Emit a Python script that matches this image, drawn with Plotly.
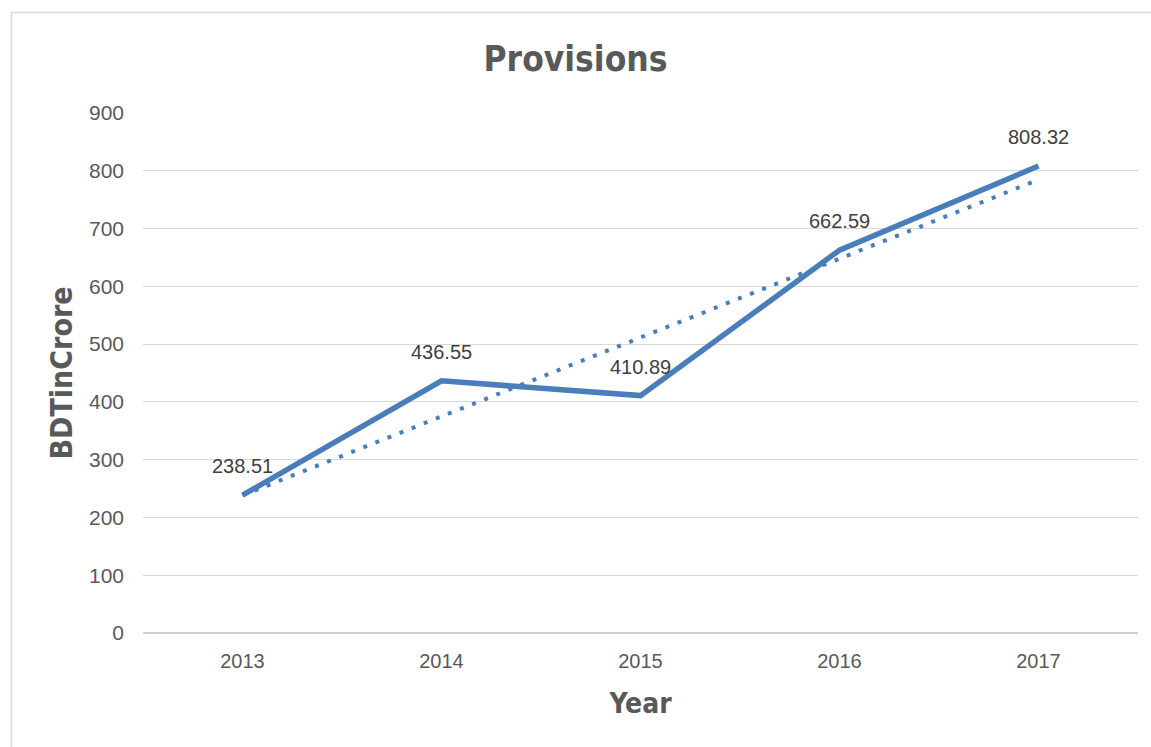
import numpy as np
import plotly.graph_objects as go

years = ["2013", "2014", "2015", "2016", "2017"]
provisions = [238.51, 436.55, 410.89, 662.59, 808.32]
y_ticks = [0, 100, 200, 300, 400, 500, 600, 700, 800, 900]

# Linear trendline (least squares), as in the original spreadsheet chart
xi = np.arange(len(years))
slope, intercept = np.polyfit(xi, provisions, 1)
trend = [slope * i + intercept for i in xi]

COND = "DejaVu Sans Condensed, sans-serif"
REG = "Liberation Sans, Arial, sans-serif"
GREY = "#595959"

fig = go.Figure()
fig.add_trace(go.Scatter(
    x=years, y=trend, mode="lines",
    line=dict(color="#4a7ebb", width=4, dash="4px,9px"),
    showlegend=False, hoverinfo="skip"))
fig.add_trace(go.Scatter(
    x=years, y=provisions, mode="lines",
    line=dict(color="#4a7ebb", width=5.5),
    showlegend=False))

# data labels: x given as category index on the category axis
for i, v in enumerate(provisions):
    fig.add_annotation(x=i, y=v, xref="x", yref="y", text=f"{v:.2f}",
                       showarrow=False, yshift=29,
                       xanchor="center", yanchor="middle",
                       font=dict(family=REG, size=20, color="#404040"))

fig.update_layout(
    width=1151, height=747,
    margin=dict(l=143, r=13, t=113, b=114),
    paper_bgcolor="white", plot_bgcolor="white",
    title=dict(text="<b>Provisions</b>", x=0.5, xanchor="center",
               y=1 - 59 / 747, yanchor="middle",
               font=dict(family=COND, size=35, color=GREY)),
    xaxis=dict(type="category", range=[-0.5, 4.5], showgrid=False,
               showline=False, ticks="", zeroline=False,
               ticklabelstandoff=14,
               tickfont=dict(family=REG, size=20, color=GREY),
               title=dict(text="<b>Year</b>", standoff=22,
                          font=dict(family=COND, size=28, color=GREY))),
    yaxis=dict(range=[0, 900], tickvals=y_ticks, showgrid=True,
               gridcolor="#d9d9d9", gridwidth=1.3, zeroline=True,
               zerolinecolor="#d0d0d0", zerolinewidth=1.5, ticks="",
               ticklabelstandoff=18,
               tickfont=dict(family=REG, size=21, color=GREY),
               title=dict(text="<b>BDTinCrore</b>", standoff=7,
                          font=dict(family=COND, size=30, color=GREY))),
)

# chart-area border
fig.add_shape(type="rect", xref="paper", yref="paper",
              x0=(11.5 - 143) / 995, x1=(1160 - 143) / 995,
              y0=(633 - 760) / 520, y1=(633 - 12.5) / 520,
              line=dict(color="#d9d9d9", width=1.5), fillcolor="rgba(0,0,0,0)", layer="below")

fig.write_html("out.html")
